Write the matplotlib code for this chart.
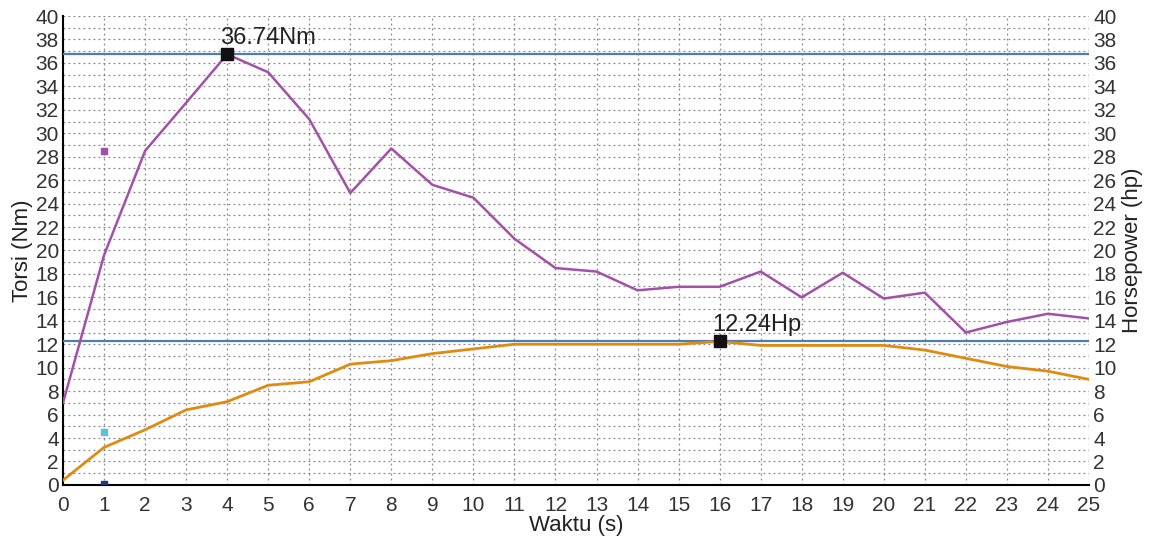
import numpy as np
import matplotlib
matplotlib.use('Agg')
import matplotlib.pyplot as plt

plt.rcParams['font.family'] = ['Liberation Sans', 'DejaVu Sans']

waktu = list(range(0, 26))
torsi = [7.0, 19.6, 28.5, 32.6, 36.74, 35.2, 31.2, 24.9, 28.7, 25.6, 24.5, 21.0, 18.5,
         18.2, 16.6, 16.9, 16.9, 18.2, 16.0, 18.1, 15.9, 16.4, 13.0, 13.9, 14.6, 14.2]
power = [0.4, 3.2, 4.7, 6.4, 7.1, 8.5, 8.8, 10.3, 10.6, 11.2, 11.6, 12.0, 12.0,
         12.0, 12.0, 12.0, 12.24, 11.9, 11.9, 11.9, 11.9, 11.5, 10.8, 10.1, 9.7, 9.0]

max_torsi = 36.74
max_torsi_t = 4
max_power = 12.24
max_power_t = 16

# stray points at t=1
dot_t = [1, 1, 1]
dot_v = [28.5, 4.5, 0.1]
dot_c = ['#a050a8', '#5bc0d8', '#1f3a7a']

fig = plt.figure(figsize=(11.52, 5.43), dpi=100)
ax = fig.add_axes([0.0547, 0.107, 0.8906, 0.8635])
ax2 = ax.twinx()

ax.set_xlim(0, 25)
ax.set_ylim(0, 40)
ax2.set_ylim(0, 40)

# grid
ax.set_xticks(waktu)
ax.set_yticks(np.arange(0, 41, 2))
ax.set_yticks(np.arange(0, 41, 1), minor=True)
ax2.set_yticks(np.arange(0, 41, 2))
ax.grid(True, which='both', color='#888888', linestyle=(0, (1.5, 2.5)), linewidth=0.9)

ax.axhline(max_torsi, color='#4a7fb0', lw=1.6, zorder=3)
ax.axhline(max_power, color='#4a7fb0', lw=1.6, zorder=3)

ax.plot(waktu, torsi, color='#a350a8', lw=1.8, zorder=4)
ax.plot(waktu, power, color='#e08a10', lw=2.0, zorder=4)

ax.scatter(dot_t, dot_v, c=dot_c, marker='s', s=18, zorder=5)

ax.plot([max_torsi_t], [max_torsi], marker='s', color='#111111', ms=8, zorder=6)
ax.plot([max_power_t], [max_power], marker='s', color='#111111', ms=8, zorder=6)
ax.annotate('%.2fNm' % max_torsi, (max_torsi_t, max_torsi), xytext=(-5, 4),
            textcoords='offset points', fontsize=17, ha='left', va='bottom', color='#222222')
ax.annotate('%.2fHp' % max_power, (max_power_t, max_power), xytext=(-5, 4),
            textcoords='offset points', fontsize=17, ha='left', va='bottom', color='#222222')

for a in (ax, ax2):
    a.spines['top'].set_visible(False)
    a.spines['right'].set_visible(False)
    a.tick_params(length=0, labelsize=15, colors='#333333', pad=3)
ax.tick_params(axis='x', pad=8)
ax.spines['left'].set_linewidth(1.5)
ax.spines['bottom'].set_linewidth(1.5)
ax2.spines['left'].set_visible(False)
ax2.spines['bottom'].set_visible(False)
ax.tick_params(which='minor', length=0)

ax.set_xlabel('Waktu (s)', fontsize=16, color='#222222', labelpad=0)
ax.set_ylabel('Torsi (Nm)', fontsize=16, color='#222222', labelpad=2)
ax2.set_ylabel('Horsepower (hp)', fontsize=16, color='#222222', labelpad=4)

fig.savefig('out.png', dpi=100)
